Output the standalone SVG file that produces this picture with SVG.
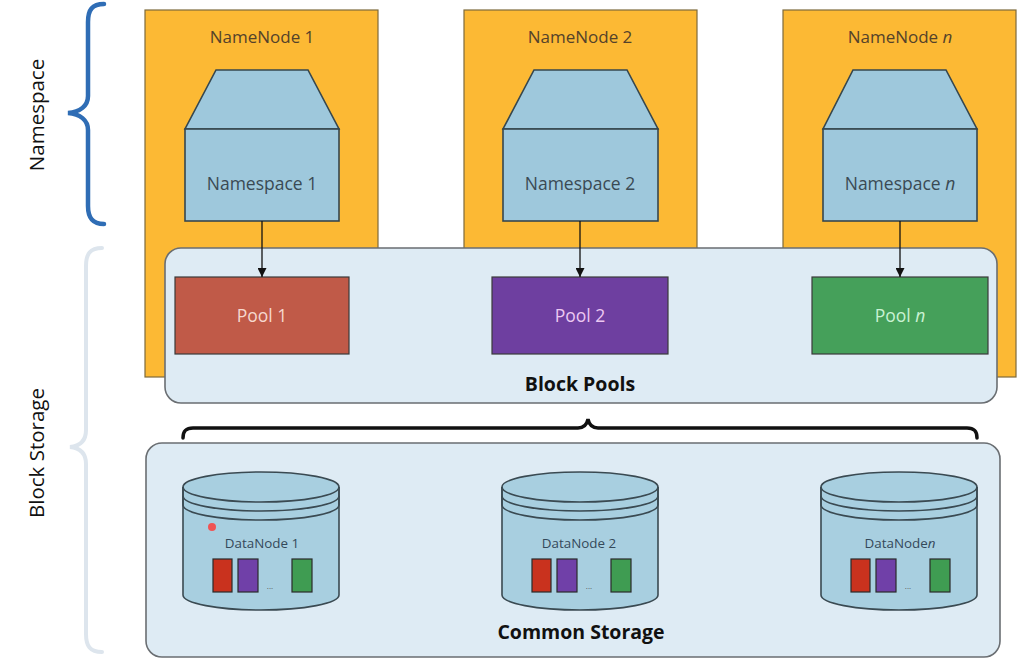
<svg xmlns="http://www.w3.org/2000/svg" width="1030" height="670" viewBox="0 0 1030 670">
<style>
.nn{fill:#fcb934;stroke:#7d6a3c;stroke-width:1.2}
.nnl{font-family:"Open Sans","Noto Sans",sans-serif;font-size:17px;fill:#54422a;text-anchor:middle}
.ns{fill:#9ec8dc;stroke:#36474e;stroke-width:1.6}
.nsl{font-family:"Open Sans","Noto Sans",sans-serif;font-size:17.5px;fill:#3a4a54;text-anchor:middle}
.panel{fill:#deebf4;stroke:#6a6e72;stroke-width:1.6}
.title{font-family:"Open Sans","Noto Sans",sans-serif;font-size:19.5px;font-weight:bold;fill:#111;text-anchor:middle}
.pool{stroke:#3a3a3a;stroke-width:1.2}
.pl{font-family:"Open Sans","Noto Sans",sans-serif;font-size:17.5px;text-anchor:middle}
.cyl{fill:#a8cfe0;stroke:#3a4a52;stroke-width:1.6}
.ring{fill:none;stroke:#3a4a52;stroke-width:1.6}
.dnl{font-family:"Open Sans","Noto Sans",sans-serif;font-size:13.4px;fill:#34495a;text-anchor:middle}
.blk{stroke:#2a2a2a;stroke-width:1.2}
.side{font-family:"Open Sans","Noto Sans",sans-serif;font-size:20.5px;fill:#111;text-anchor:middle}
.arrow{stroke:#111;stroke-width:1.3;fill:none;marker-end:url(#ah)}
</style>
<defs>
<marker id="ah" viewBox="0 0 10 10" refX="10" refY="5" markerWidth="9" markerHeight="9" markerUnits="userSpaceOnUse" orient="auto">
<path d="M0,0 L10,5 L0,10 z" fill="#111"/>
</marker>
<g id="cylShape">
<path class="cyl" d="M-78,0 L-78,108 A78,15 0 0 0 78,108 L78,0"/>
<ellipse class="cyl" cx="0" cy="0" rx="78" ry="15"/>
<path class="ring" d="M-78,0 L-78,9 A78,15 0 0 0 78,9 L78,0"/>
<path class="ring" d="M-78,9 L-78,18 A78,15 0 0 0 78,18 L78,9"/>
</g>
<g id="blocks">
<rect class="blk" x="-48" y="72" width="19" height="33" fill="#c9321e"/>
<rect class="blk" x="-23" y="72" width="20" height="33" fill="#7040a8"/>
<text x="9" y="102" font-family="Open Sans, sans-serif" font-size="8" fill="#555" text-anchor="middle">...</text>
<rect class="blk" x="31" y="72" width="20" height="33" fill="#3f9c52"/>
</g>
</defs>

<rect width="1030" height="670" fill="#ffffff"/>

<g id="namespace-brace">
<path d="M104,4 C92,4 88,10 88,22 L88,96 C88,106 80,112 68,113 C80,114 88,120 88,130 L88,206 C88,217 92,224 104,224" fill="none" stroke="#2f6db5" stroke-width="4.5" stroke-linecap="round"/>
<text class="side" transform="translate(44,115) rotate(-90)">Namespace</text>
</g>
<g id="blockstorage-brace">
<path d="M102,248 C90,248 86,254 86,266 L86,430 C86,441 80,446 70,447 C80,448 86,453 86,464 L86,634 C86,646 90,652 102,652" fill="none" stroke="#dde5ed" stroke-width="4" stroke-linecap="round"/>
<text class="side" transform="translate(44,453) rotate(-90)">Block Storage</text>
</g>

<g id="namenode1">
<rect class="nn" x="145" y="10" width="233" height="367"/>
<text class="nnl" x="262" y="43">NameNode 1</text>
</g>
<g id="namenode2">
<rect class="nn" x="464" y="10" width="233" height="367"/>
<text class="nnl" x="580" y="43">NameNode 2</text>
</g>
<g id="namenoden">
<rect class="nn" x="783" y="10" width="233" height="367"/>
<text class="nnl" x="900" y="43">NameNode <tspan font-style="italic">n</tspan></text>
</g>

<g id="namespace1">
<path class="ns" d="M216,70 L308,70 L339,129 L185,129 Z"/>
<rect class="ns" x="185" y="129" width="154" height="92"/>
<text class="nsl" x="262" y="190">Namespace 1</text>
</g>
<g id="namespace2">
<path class="ns" d="M534,70 L627,70 L658,129 L503,129 Z"/>
<rect class="ns" x="503" y="129" width="155" height="92"/>
<text class="nsl" x="580" y="190">Namespace 2</text>
</g>
<g id="namespacen">
<path class="ns" d="M853,70 L946,70 L977,129 L823,129 Z"/>
<rect class="ns" x="823" y="129" width="154" height="92"/>
<text class="nsl" x="900" y="190">Namespace <tspan font-style="italic">n</tspan></text>
</g>

<g id="blockpools">
<rect class="panel" x="165" y="248" width="832" height="155" rx="16"/>
<text class="title" x="580" y="391">Block Pools</text>
</g>
<g id="pool1">
<rect class="pool" x="175" y="277" width="174" height="77" fill="#c05a48"/>
<text class="pl" x="262" y="322" fill="#f6d8cf">Pool 1</text>
</g>
<g id="pool2">
<rect class="pool" x="492" y="277" width="176" height="77" fill="#6e3fa0"/>
<text class="pl" x="580" y="322" fill="#ecc8f2">Pool 2</text>
</g>
<g id="pooln">
<rect class="pool" x="812" y="277" width="176" height="77" fill="#45a05a"/>
<text class="pl" x="900" y="322" fill="#c9f2d3">Pool <tspan font-style="italic">n</tspan></text>
</g>

<g id="connectors">
<line class="arrow" x1="262" y1="221" x2="262" y2="277"/>
<line class="arrow" x1="580" y1="221" x2="580" y2="277"/>
<line class="arrow" x1="900" y1="221" x2="900" y2="277"/>
</g>

<g id="pools-brace">
<path d="M183,438 C183,431 186,428 193,428 L578,428 C584,428 587,424 588,419 C589,424 592,428 598,428 L967,428 C974,428 977,431 977,438" fill="none" stroke="#111" stroke-width="3.5" stroke-linecap="round"/>
</g>

<g id="commonstorage">
<rect class="panel" x="146" y="443" width="854" height="214" rx="16"/>
<text class="title" x="581" y="639">Common Storage</text>
</g>

<g id="datanode1" transform="translate(261,487)">
<use href="#cylShape"/>
<circle cx="-49" cy="40" r="4" fill="#f05454"/>
<text class="dnl" x="1" y="61">DataNode 1</text>
<use href="#blocks"/>
</g>
<g id="datanode2" transform="translate(580,487)">
<use href="#cylShape"/>
<text class="dnl" x="-1" y="61">DataNode 2</text>
<use href="#blocks"/>
</g>
<g id="datanoden" transform="translate(899,487)">
<use href="#cylShape"/>
<text class="dnl" x="1" y="61">DataNode<tspan font-style="italic">n</tspan></text>
<use href="#blocks"/>
</g>
</svg>
